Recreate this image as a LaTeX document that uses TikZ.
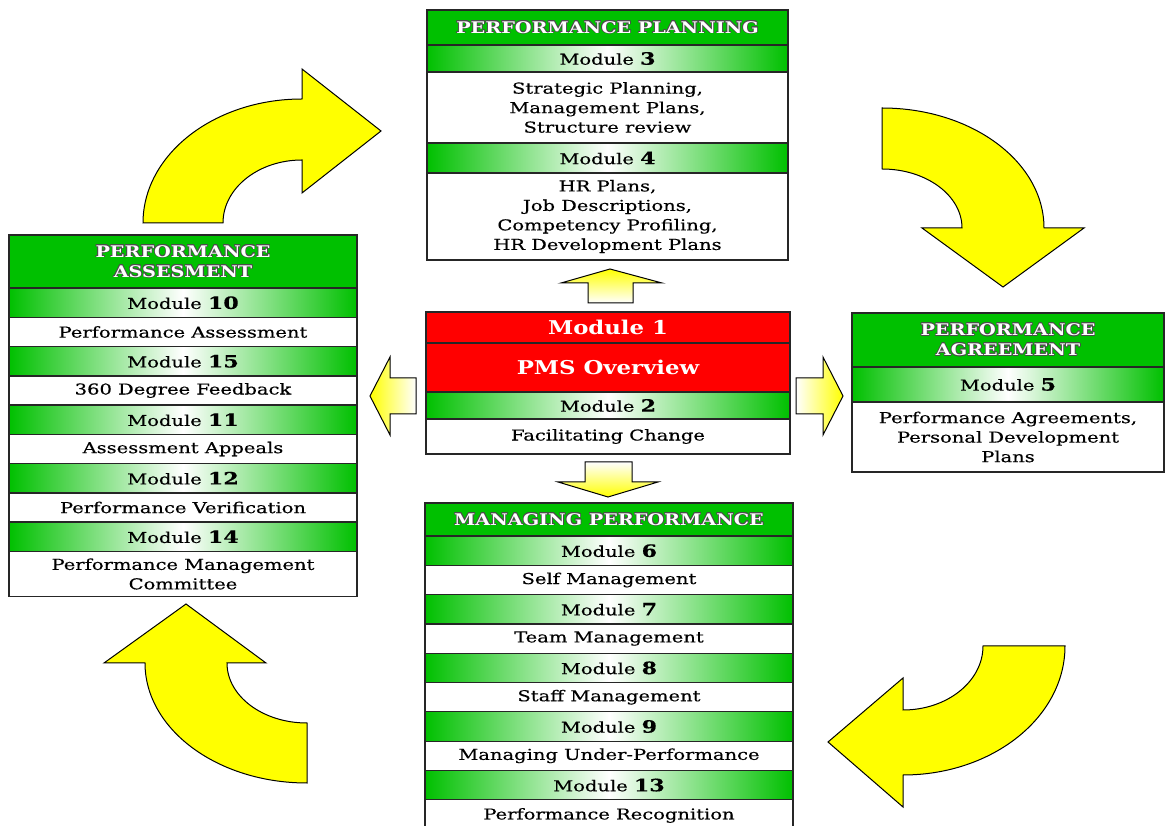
\documentclass[tikz,border=0pt]{standalone}
\usepackage{fontspec}
\setmainfont{DejaVu Serif}[FakeStretch=1.2]
\newfontfamily\bodyfont{DejaVu Serif}[FakeStretch=1.3, FakeBold=0.4]
\usepackage[copies]{contour}
\usetikzlibrary{positioning}
\definecolor{pmsgreen}{RGB}{0,192,0}
\definecolor{pmsred}{RGB}{255,0,0}
\definecolor{pmsyellow}{RGB}{255,255,0}
\contourlength{0.6pt}
\newcommand{\hd}[1]{\contour{black!70}{\textcolor{white}{#1}}}
\newcommand{\md}[1]{Module {\fontsize{17}{19}\selectfont\bfseries #1}}

\tikzset{
  box/.style={draw=black!85, line width=1.3pt, inner sep=0pt, outer sep=0pt, align=center,
    font=\fontsize{15}{19.5}\selectfont\bodyfont},
  hdr/.style={box, fill=pmsgreen, font=\fontsize{16}{20}\selectfont\bfseries},
  band/.style={box, left color=pmsgreen, right color=pmsgreen, middle color=white},
  txt/.style={box, fill=white},
  redrow/.style={box, fill=pmsred, text=white, font=\fontsize{19}{22}\selectfont\bfseries},
  bigarrow/.style={draw=black, line width=1pt, fill=pmsyellow},
  smallarrow/.style={draw=black, line width=1pt}
}

\begin{document}
\begin{tikzpicture}[x=1pt, y=1pt]
\useasboundingbox (0,0) rectangle (1165,825);

% performance planning
\begin{scope}[nodes={minimum width=361pt}]
  \node[hdr, minimum height=35pt] (pp) at (607.5,797.5) {\hd{PERFORMANCE PLANNING}};
  \node[band, minimum height=27pt, below=0pt of pp] (m3) {\md{3}};
  \node[txt, minimum height=71pt, below=0pt of m3] (t3) {Strategic Planning,\\Management Plans,\\Structure review};
  \node[band, minimum height=30pt, below=0pt of t3] (m4) {\md{4}};
  \node[txt, minimum height=87pt, below=0pt of m4] (t4) {HR Plans,\\Job Descriptions,\\Competency Profiling,\\HR Development Plans};
\end{scope}

% performance assessment
\begin{scope}[nodes={minimum width=348pt}]
  \node[hdr, minimum height=53pt] (pa) at (183,563.5) {\hd{PERFORMANCE}\\\hd{ASSESMENT}};
  \node[band, minimum height=29.5pt, below=0pt of pa] (m10) {\md{10}};
  \node[txt, minimum height=29pt, below=0pt of m10] (t10) {Performance Assessment};
  \node[band, minimum height=29.5pt, below=0pt of t10] (m15) {\md{15}};
  \node[txt, minimum height=29pt, below=0pt of m15] (t15) {360 Degree Feedback};
  \node[band, minimum height=29.5pt, below=0pt of t15] (m11) {\md{11}};
  \node[txt, minimum height=29pt, below=0pt of m11] (t11) {Assessment Appeals};
  \node[band, minimum height=29.5pt, below=0pt of t11] (m12) {\md{12}};
  \node[txt, minimum height=29pt, below=0pt of m12] (t12) {Performance Verification};
  \node[band, minimum height=29.5pt, below=0pt of t12] (m14) {\md{14}};
  \node[txt, minimum height=45pt, below=0pt of m14] (t14) {Performance Management\\Committee};
\end{scope}

% overview
\begin{scope}[nodes={minimum width=364pt}]
  \node[redrow, minimum height=31pt] (m1) at (608,497.5) {Module 1};
  \node[redrow, minimum height=49pt, below=0pt of m1] (pms) {PMS Overview};
  \node[band, minimum height=27pt, below=0pt of pms] (m2) {\md{2}};
  \node[txt, minimum height=35pt, below=0pt of m2] (t2) {Facilitating Change};
\end{scope}

% performance agreement
\begin{scope}[nodes={minimum width=312pt}]
  \node[hdr, minimum height=54pt] (pg) at (1008,485) {\hd{PERFORMANCE}\\\hd{AGREEMENT}};
  \node[band, minimum height=35pt, below=0pt of pg] (m5) {\md{5}};
  \node[txt, minimum height=70pt, below=0pt of m5] (t5) {Performance Agreements,\\Personal Development\\Plans};
\end{scope}

% managing performance
\begin{scope}[nodes={minimum width=368pt}]
  \node[hdr, minimum height=33pt] (mp) at (609,305.5) {\hd{MANAGING PERFORMANCE}};
  \node[band, minimum height=29.4pt, below=0pt of mp] (m6) {\md{6}};
  \node[txt, minimum height=29.2pt, below=0pt of m6] (t6) {Self Management};
  \node[band, minimum height=29.4pt, below=0pt of t6] (m7) {\md{7}};
  \node[txt, minimum height=29.2pt, below=0pt of m7] (t7) {Team Management};
  \node[band, minimum height=29.4pt, below=0pt of t7] (m8) {\md{8}};
  \node[txt, minimum height=29.2pt, below=0pt of m8] (t8) {Staff Management};
  \node[band, minimum height=29.4pt, below=0pt of t8] (m9) {\md{9}};
  \node[txt, minimum height=29.2pt, below=0pt of m9] (t9) {Managing Under-Performance};
  \node[band, minimum height=29.4pt, below=0pt of t9] (m13) {\md{13}};
  \node[txt, minimum height=50pt, text depth=22pt, below=0pt of m13] (t13) {Performance Recognition};
\end{scope}

% small arrows
\draw[smallarrow, top color=pmsyellow, bottom color=white] (588,522) -- (588,542) -- (561,542) -- (610,556) -- (662,542) -- (633,542) -- (633,522) -- cycle;
\draw[smallarrow, top color=white, bottom color=pmsyellow] (585,363) -- (585,343) -- (558,343) -- (608,328) -- (658,343) -- (632,343) -- (632,363) -- cycle;
\draw[smallarrow, left color=white, right color=pmsyellow] (796,447) -- (823,447) -- (823,468) -- (843,429) -- (823,390) -- (823,411) -- (796,411) -- cycle;
\draw[smallarrow, left color=pmsyellow, right color=white] (416,447) -- (390,447) -- (390,468) -- (370,429) -- (390,390) -- (390,411) -- (416,411) -- cycle;

% big arrows
\draw[bigarrow] (143,602) arc[start angle=180, end angle=90, x radius=159pt, y radius=124pt] -- (302,756) -- (381,694) -- (302,632) -- (302,665) arc[start angle=90, end angle=180, x radius=79pt, y radius=63pt] -- cycle;
\draw[bigarrow] (882,717) arc[start angle=90, end angle=0, x radius=162pt, y radius=120pt] -- (1084,597) -- (1003,538) -- (922,597) -- (962,597) arc[start angle=0, end angle=90, x radius=80pt, y radius=59pt] -- cycle;
\draw[bigarrow] (903,115) arc[start angle=270, end angle=360, x radius=80pt, y radius=64pt] -- (1065,179) arc[start angle=0, end angle=-90, x radius=162pt, y radius=129pt] -- (903,18) -- (828,83) -- (903,147) -- cycle;
\draw[bigarrow] (145,162) arc[start angle=180, end angle=270, x radius=162pt, y radius=120pt] -- (307,102) arc[start angle=270, end angle=180, x radius=80pt, y radius=60pt] -- (266,162) -- (186,221) -- (104,162) -- cycle;
\end{tikzpicture}
\end{document}
